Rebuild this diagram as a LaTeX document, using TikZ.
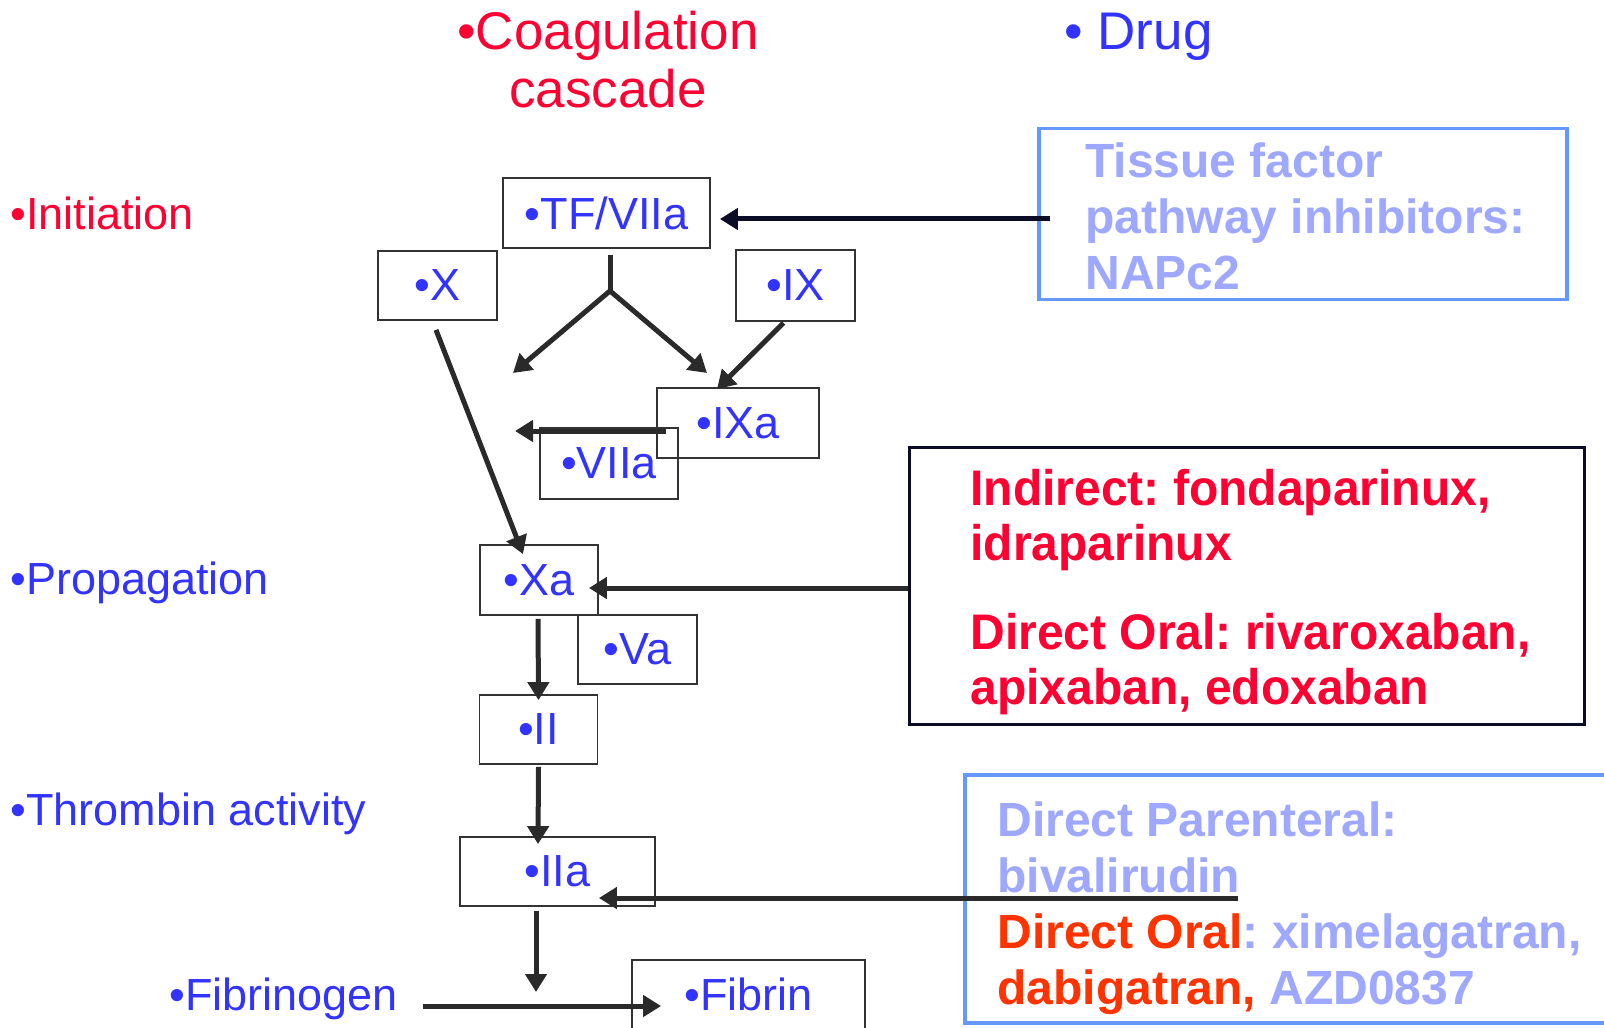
\documentclass[tikz,border=0pt]{standalone}
\usepackage{fontspec}
\setmainfont{Liberation Sans}
\newfontfamily\condfont[FakeStretch=0.96]{Liberation Sans}
\usetikzlibrary{arrows.meta,calc}
\frenchspacing
\definecolor{hred}{RGB}{255,0,51}
\definecolor{hblue}{RGB}{51,51,255}
\definecolor{peri}{RGB}{158,168,255}
\definecolor{ored}{RGB}{255,51,0}
\definecolor{lblue}{RGB}{102,153,255}
\definecolor{navy}{RGB}{12,12,38}
\definecolor{darr}{RGB}{42,42,42}
\definecolor{boxgray}{RGB}{51,51,51}
\begin{document}
\begin{tikzpicture}[x=0.5pt,y=-0.5pt,
  fsz/.style 2 args={minimum width=#1*0.5pt,minimum height=#2*0.5pt},
  fbox/.style={draw=boxgray,line width=0.9pt,inner sep=0pt,text=hblue,
    font=\fontsize{22.5pt}{27pt}\selectfont},
  lab/.style={anchor=base west,inner sep=0pt,font=\fontsize{22.5pt}{27pt}\selectfont},
  hdr/.style={inner sep=0pt,font=\fontsize{26.5pt}{29pt}\selectfont},
  drugbox/.style={line width=1.6pt,inner sep=0pt},
  drugtext/.style={anchor=base west,inner sep=0pt,align=left,
    font=\fontsize{24pt}{28pt}\selectfont\bfseries},
  arr/.style={draw=darr,line width=2.5pt,-{Triangle[length=9pt,width=10.5pt]}},
  navarr/.style={draw=navy,line width=2.5pt,-{Triangle[length=9pt,width=10.5pt]}}]
\useasboundingbox (0,0) rectangle (1604,1027);
\clip (0,0) rectangle (1604,1027);
\fill[white] (0,0) rectangle (1604,1027);

% headers and stage labels
\node[hdr,anchor=base,text=hred] (coag) at (608,50) {•Coagulation};
\node[hdr,anchor=base,text=hred] (casc) at (608,108) {cascade};
\node[hdr,anchor=base west,text=hblue] (drug) at (1064,50) {• Drug};
\node[lab,text=hred] (init) at (10,229) {•Initiation};
\node[lab,text=hblue] (prop) at (10,594) {•Propagation};
\node[lab,text=hblue] (thr) at (10,825) {•Thrombin activity};
\node[lab,text=hblue] (fibrinogen) at (169,1010) {•Fibrinogen};

% factor boxes
\node[fbox,fsz={207}{70}] (tf) at (606.5,213) {•TF/VIIa};
\node[fbox,fsz={119}{69}] (x) at (437.5,285.5) {•X};
\node[fbox,fsz={119}{71}] (ix) at (795.5,285.5) {•IX};
\node[fbox,fsz={162}{70}] (ixa) at (738,423) {•IXa};
\node[fbox,fsz={138}{71}] (viia) at (609,463.5) {•VIIa};
\node[fbox,fsz={118}{70}] (xa) at (539,580) {•Xa};
\node[fbox,fsz={119}{69}] (va) at (637.5,649.5) {•Va};
\node[fbox,fsz={118}{69}] (ii) at (538.5,729.5) {•II};
\node[fbox,fsz={195}{69}] (iia) at (557.5,871.5) {•IIa};
\node[fbox,fsz={233}{90},text depth=11pt] (fibrin) at (748.5,1005) {•Fibrin};

% drug boxes
\node[drugbox,draw=lblue,fsz={528}{171}] (tfpi) at (1303,214) {};
\node[drugtext,text=peri] (tfpitext) at (1085,289)
  {Tissue factor\\pathway inhibitors:\\NAPc2};
\node[drugbox,draw=navy,line width=1.8pt,fsz={675}{277}] (ind) at (1247,586) {};
\node[drugtext,text=hred,font=\fontsize{25pt}{27.5pt}\selectfont\condfont\bfseries] (indtext) at (970,704)
  {Indirect: fondaparinux,\\idraparinux\\[17pt]Direct Oral: rivaroxaban,\\apixaban, edoxaban};
\node[drugbox,draw=lblue,fsz={660}{248}] (dir) at (1295,899) {};
\node[drugtext] (dirtext) at (997,1004)
  {\color{peri}Direct Parenteral:\\\color{peri}bivalirudin\\\color{ored}Direct Oral\color{peri}: ximelagatran,\\\color{ored}dabigatran, \color{peri}AZD0837};

% fork under TF/VIIa
\coordinate (fork) at ($(tf.south)+(3.5,42)$);
\coordinate (forkL) at (513,373);
\coordinate (forkR) at (707,373);
\coordinate (viiaEnd) at (515,431);
\coordinate (fibrinEnd) at (536,992);
\draw[draw=darr,line width=2.5pt] ($(tf.south)+(3.5,6)$) -- (fork);
\draw[arr] (fork) -- (forkL);
\draw[arr] (fork) -- (forkR);
\draw[arr] ($(ix.south)+(-12,1)$) -- ($(ixa.north)+(-21,2)$);
\draw[arr] ($(ixa.west)+(10,8)$) -- (viiaEnd);
\draw[arr] ($(x.south)+(-1.5,9)$) -- ($(xa.north)+(-16,10)$);
\draw[arr] ($(xa.south)+(-1,3)$) -- ($(ii.north)+(0,6)$);
\draw[arr] ($(ii.south)+(0,2)$) -- ($(iia.north)+(-19.5,8)$);
\draw[arr] ($(iia.south)+(-21.5,4)$) -- (fibrinEnd);
\draw[arr] ($(fibrinogen.base east)+(25,-4)$) -- ($(fibrin.west)+(30,1)$);

% drug arrows
\draw[navarr] ($(tfpi.west)+(13,5)$) -- ($(tf.east)+(9,6)$);
\draw[arr] ($(ind.west)+(0,2)$) -- ($(xa.east)+(-10,8)$);
\draw[arr] ($(dir.west)+(275,-1)$) -- ($(iia.east)+(-57,26.5)$);
\end{tikzpicture}
\end{document}
